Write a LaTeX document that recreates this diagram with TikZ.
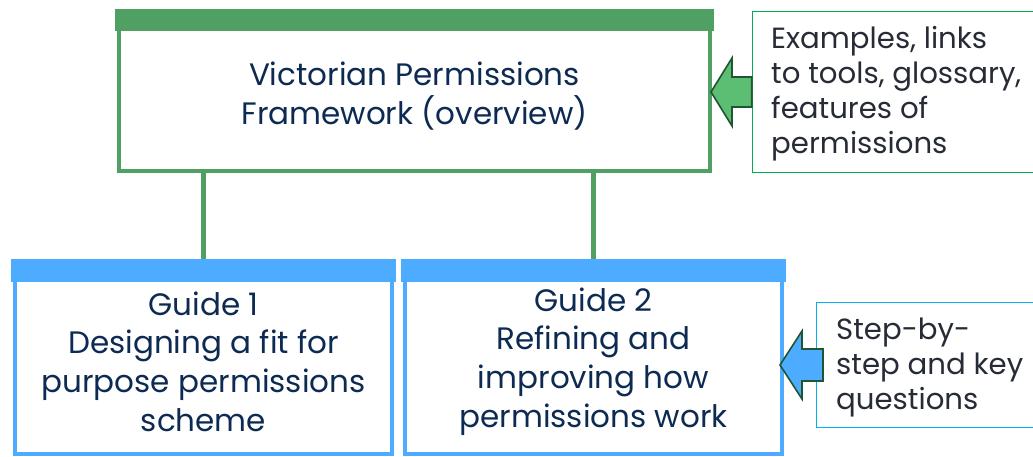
\documentclass[tikz,border=0pt]{standalone}
\usepackage{fontspec}
\setmainfont{Poppins}
\usetikzlibrary{calc}
\definecolor{vgreen}{HTML}{4FA062}
\definecolor{agreen}{HTML}{5CBE73}
\definecolor{dgreen}{HTML}{1F5530}
\definecolor{vblue}{HTML}{4DACFF}
\definecolor{bgreen}{HTML}{00B050}
\definecolor{bcyan}{HTML}{00B0F0}
\definecolor{navy}{HTML}{0D2A52}
\definecolor{tgray}{HTML}{262B36}
\tikzset{
  x=1pt,y=1pt,
  mainbox/.style={draw=vgreen,line width=4pt,minimum width=591pt,minimum height=158pt,inner sep=0pt},
  guidebox/.style={draw=vblue,line width=4pt,minimum width=377pt,minimum height=191pt,inner sep=0pt},
  sidebox/.style={line width=1.5pt,inner sep=0pt},
  maintext/.style={text=navy,align=center,inner sep=0pt,font=\fontsize{31}{38.7}\selectfont},
  sidetext/.style={text=tgray,align=left,anchor=west,inner sep=0pt,font=\fontsize{29.2}{35}\selectfont},
  blockarrow/.style={draw=dgreen,line width=1.6pt,line join=miter},
  link/.style={draw=vgreen,line width=5pt}
}
\begin{document}
\begin{tikzpicture}
\useasboundingbox (0,0) rectangle (1033,457);
% main boxes
\node[mainbox] (top) at (414.5,365) {};
\fill[vgreen] ([shift={(-2,2)}]top.north west) rectangle ([shift={(2,-20)}]top.north east);
\node[maintext] (toptext) at (414.5,361) {Victorian Permissions\\Framework (overview)};

\node[guidebox] (g1) at (203.5,98.5) {};
\fill[vblue] ([shift={(-2,2)}]g1.north west) rectangle ([shift={(2,-21)}]g1.north east);
\node[maintext] (g1text) at (203.5,95.5) {Guide 1\\Designing a fit for\\purpose permissions\\scheme};

\node[guidebox] (g2) at (593.5,98.5) {};
\fill[vblue] ([shift={(-2,2)}]g2.north west) rectangle ([shift={(2,-21)}]g2.north east);
\node[maintext] (g2text) at (593.5,95.5) {Guide 2\\Refining and\\improving how\\permissions work};

% connectors
\draw[link] (g1.north |- top.south) -- ([yshift=2]g1.north);
\draw[link] (g2.north |- top.south) -- ([yshift=2]g2.north);

% side boxes
\node[sidebox,draw=bgreen,minimum width=287.5pt,minimum height=161pt] (ex) at (896.25,365) {};
\node[sidetext] (extext) at (771,363) {Examples, links\\to tools, glossary,\\features of\\permissions};

\node[sidebox,draw=bcyan,minimum width=223.5pt,minimum height=125pt] (st) at (928.25,92) {};
\node[sidetext] (sttext) at (836,90) {Step-by-\\step and key\\questions};

% block arrows
\draw[blockarrow,fill=agreen]
  ([xshift=-1]top.east) -- ++(21,34) -- ++(0,-19) -- (ex.west |- {0,380}) -- (ex.west |- {0,350}) -- ([xshift=20]top.east |- {0,350}) -- ([xshift=20]top.east |- {0,331}) -- cycle;
\draw[blockarrow,fill=vblue]
  ([xshift=-4]g2.east |- st.west) coordinate (bt) -- ++(22,34) -- ++(0,-18) -- ++(21,0) -- ++(0,-32) -- ++(-21,0) -- ++(0,-18) -- cycle;
\end{tikzpicture}
\end{document}
